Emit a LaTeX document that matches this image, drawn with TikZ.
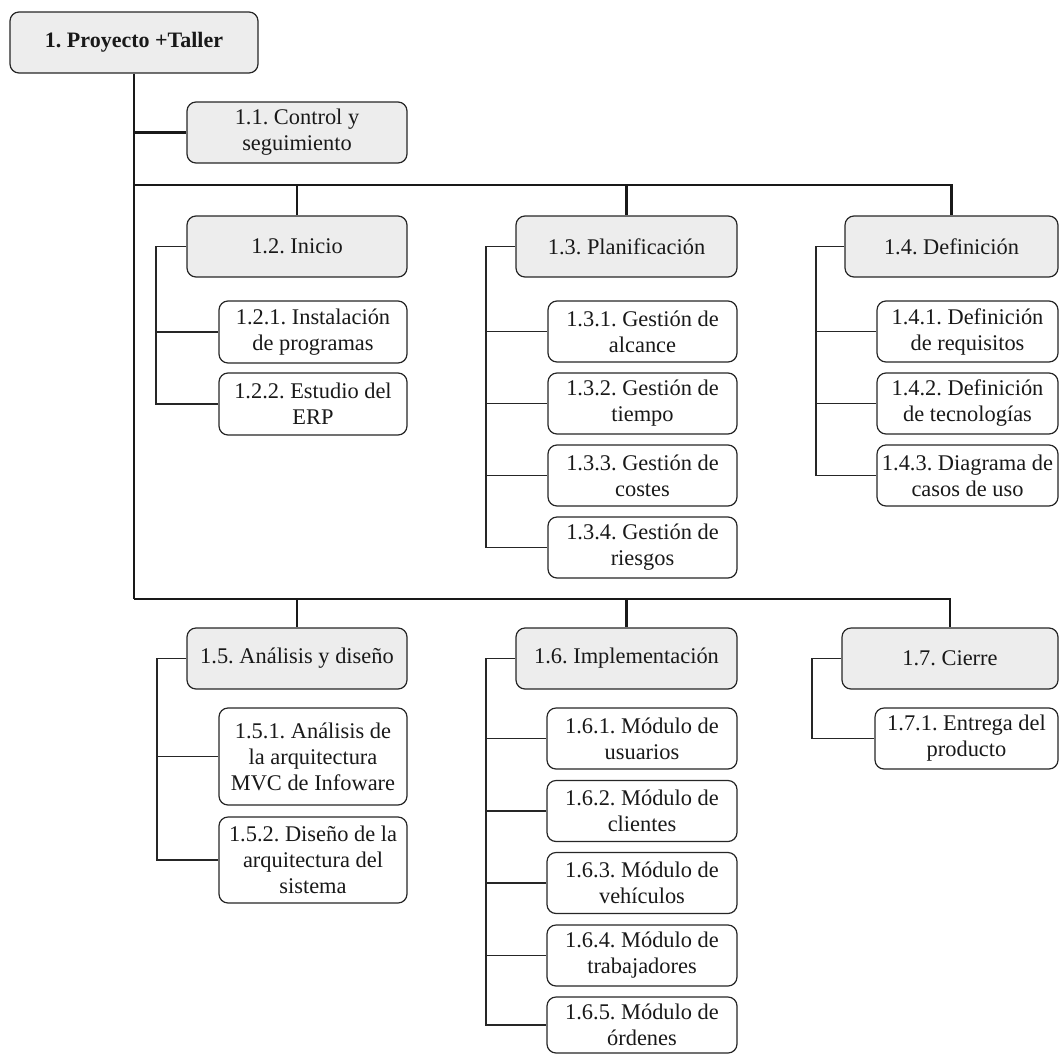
\documentclass[tikz,border=0pt]{standalone}
\usepackage{fontspec}
\setmainfont{Liberation Serif}
\frenchspacing
\begin{document}
\begin{tikzpicture}[x=1pt,y=-1pt,
  box/.style={draw=black!85, line width=1.2pt, rounded corners=9pt,
    inner sep=0pt, align=center, text=black!90,
    font=\fontsize{22.4}{26}\selectfont\frenchspacing},
  gbox/.style={box, fill=black!7},
  wbox/.style={box, fill=white},
  trunk/.style={line width=2.5pt, black!90},
  leaf/.style={line width=1.2pt, black!85}]
\useasboundingbox (0,0) rectangle (1060,1055);

% root and first-level work packages
\node[gbox, minimum width=248pt, minimum height=61pt, font=\fontsize{22}{26}\selectfont\bfseries\frenchspacing] (root) at (134,42.5) {1. Proyecto +Taller};
\node[gbox, minimum width=220pt, minimum height=61pt] (n11) at (297,132.5) {1.1. Control y\\seguimiento};
\node[gbox, minimum width=220pt, minimum height=61pt] (n12) at (297,246.5) {1.2. Inicio};
\node[gbox, minimum width=221pt, minimum height=61pt] (n13) at (626.5,246.5) {1.3. Planificación};
\node[gbox, minimum width=213pt, minimum height=61pt] (n14) at (951.5,246.5) {1.4. Definición};
\node[gbox, minimum width=220pt, minimum height=61pt] (n15) at (297,658.5) {1.5. Análisis y diseño};
\node[gbox, minimum width=221pt, minimum height=61pt] (n16) at (626.5,658.5) {1.6. Implementación};
\node[gbox, minimum width=216pt, minimum height=61pt] (n17) at (950,658.5) {1.7. Cierre};

% 1.2
\node[wbox, minimum width=188pt, minimum height=62pt] (n121) at (313,332) {1.2.1. Instalación\\de programas};
\node[wbox, minimum width=188pt, minimum height=62pt] (n122) at (313,404) {1.2.2. Estudio del\\ERP};
% 1.3
\node[wbox, minimum width=189pt, minimum height=61pt] (n131) at (642.5,331.5) {1.3.1. Gestión de\\alcance};
\node[wbox, minimum width=189pt, minimum height=61pt] (n132) at (642.5,403.5) {1.3.2. Gestión de\\tiempo};
\node[wbox, minimum width=189pt, minimum height=61pt] (n133) at (642.5,475.5) {1.3.3. Gestión de\\costes};
\node[wbox, minimum width=189pt, minimum height=61pt] (n134) at (642.5,547.5) {1.3.4. Gestión de\\riesgos};
% 1.4
\node[wbox, minimum width=181pt, minimum height=61pt] (n141) at (967.5,331.5) {1.4.1. Definición\\de requisitos};
\node[wbox, minimum width=181pt, minimum height=61pt] (n142) at (967.5,403.5) {1.4.2. Definición\\de tecnologías};
\node[wbox, minimum width=181pt, minimum height=61pt] (n143) at (967.5,475.5) {1.4.3. Diagrama de\\casos de uso};
% 1.5
\node[wbox, minimum width=188pt, minimum height=97pt] (n151) at (313,756.5) {1.5.1. Análisis de\\la arquitectura\\MVC de Infoware};
\node[wbox, minimum width=188pt, minimum height=86pt] (n152) at (313,860) {1.5.2. Diseño de la\\arquitectura del\\sistema};
% 1.6
\node[wbox, minimum width=190pt, minimum height=61pt] (n161) at (642,738.5) {1.6.1. Módulo de\\usuarios};
\node[wbox, minimum width=190pt, minimum height=61pt] (n162) at (642,811) {1.6.2. Módulo de\\clientes};
\node[wbox, minimum width=190pt, minimum height=61pt] (n163) at (642,883) {1.6.3. Módulo de\\vehículos};
\node[wbox, minimum width=190pt, minimum height=61pt] (n164) at (642,955.5) {1.6.4. Módulo de\\trabajadores};
\node[wbox, minimum width=190pt, minimum height=56pt] (n165) at (642,1025) {1.6.5. Módulo de\\órdenes};
% 1.7
\node[wbox, minimum width=183pt, minimum height=61pt] (n171) at (966.5,738.5) {1.7.1. Entrega del\\producto};

% main trunk and the two horizontal bars
\coordinate (barA) at (134,185);
\coordinate (barB) at (134,599);
\draw[trunk] (root.south) -- (barB);
\draw[trunk] (root.south |- n11.west) -- (n11.west);
\draw[trunk] (barA) -| (n14.north);
\draw[trunk] (n12.north |- barA) -- (n12.north);
\draw[trunk] (n13.north |- barA) -- (n13.north);
\draw[trunk] (barB) -| (n17.north);
\draw[trunk] (n15.north |- barB) -- (n15.north);
\draw[trunk] (n16.north |- barB) -- (n16.north);

% brackets to the leaves
\coordinate (b12) at (156,0);
\coordinate (b13) at (486,0);
\coordinate (b14) at (816,0);
\coordinate (b15) at (157,0);
\coordinate (b16) at (486,0);
\coordinate (b17) at (812,0);

\draw[leaf] (n12.west) -| (b12 |- n122.west) -- (n122.west);
\draw[leaf] (b12 |- n121.west) -- (n121.west);

\draw[leaf] (n13.west) -| (b13 |- n134.west) -- (n134.west);
\foreach \n in {n131,n132,n133} \draw[leaf] (b13 |- \n.west) -- (\n.west);

\draw[leaf] (n14.west) -| (b14 |- n143.west) -- (n143.west);
\foreach \n in {n141,n142} \draw[leaf] (b14 |- \n.west) -- (\n.west);

\draw[leaf] (n15.west) -| (b15 |- n152.west) -- (n152.west);
\draw[leaf] (b15 |- n151.west) -- (n151.west);

\draw[leaf] (n16.west) -| (b16 |- n165.west) -- (n165.west);
\foreach \n in {n161,n162,n163,n164} \draw[leaf] (b16 |- \n.west) -- (\n.west);

\draw[leaf] (n17.west) -| (b17 |- n171.west) -- (n171.west);
\end{tikzpicture}
\end{document}
